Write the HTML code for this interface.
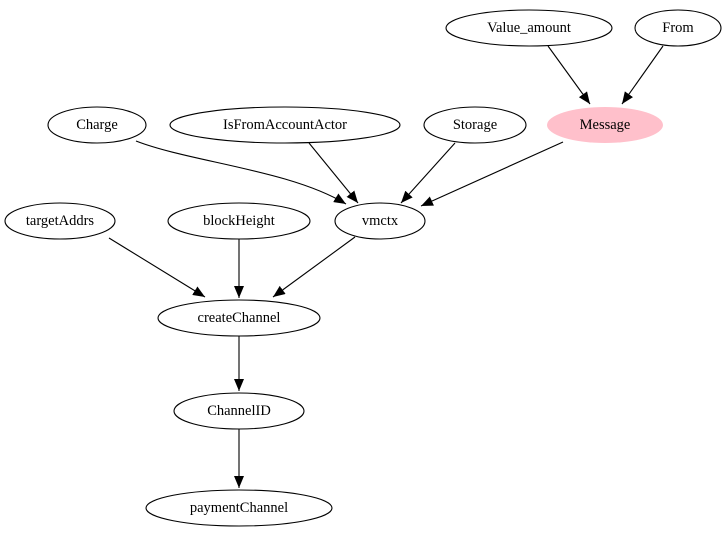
<!DOCTYPE html>
<html><head><meta charset="utf-8"><style>
html,body{margin:0;padding:0;background:#fff;width:726px;height:539px;overflow:hidden}
text{font-family:"Liberation Serif",serif;font-size:14.5px;text-anchor:middle;dominant-baseline:central;fill:#000}
</style></head><body>
<svg width="726" height="539" viewBox="0 0 726 539" xmlns="http://www.w3.org/2000/svg">
<defs><marker id="a" markerWidth="12" markerHeight="10" refX="12" refY="5" orient="auto" markerUnits="userSpaceOnUse"><path d="M0,0 L12,5 L0,10 z" fill="#000"/></marker></defs>
<g fill="none" stroke="#000" stroke-width="1.1">
<ellipse cx="529" cy="28" rx="83" ry="18"/>
<ellipse cx="678" cy="28" rx="43" ry="18"/>
<ellipse cx="605" cy="125" rx="58" ry="18" fill="#ffc0cb" stroke="none"/>
<ellipse cx="97" cy="125" rx="49" ry="18"/>
<ellipse cx="285" cy="125" rx="115" ry="18"/>
<ellipse cx="475" cy="125" rx="51" ry="18"/>
<ellipse cx="60" cy="221" rx="55" ry="18"/>
<ellipse cx="239" cy="221" rx="71" ry="18"/>
<ellipse cx="380" cy="221" rx="45" ry="18"/>
<ellipse cx="239" cy="318" rx="81" ry="18"/>
<ellipse cx="239" cy="411" rx="65" ry="18"/>
<ellipse cx="239" cy="508" rx="93" ry="18"/>
<g marker-end="url(#a)">
<path d="M548,46 L590,104"/>
<path d="M663,46 L622,104"/>
<path d="M136,141 C190,162 290,170 346,204"/>
<path d="M309,143 L358,203"/>
<path d="M455,143 L401,203"/>
<path d="M563,142 L421,206"/>
<path d="M109,238 L205,297"/>
<path d="M239,239 L239,298"/>
<path d="M355,237 L273,297"/>
<path d="M239,336 L239,391"/>
<path d="M239,429 L239,488"/>
</g></g>
<text x="529" y="28">Value_amount</text>
<text x="678" y="28">From</text>
<text x="605" y="125">Message</text>
<text x="97" y="125">Charge</text>
<text x="285" y="125">IsFromAccountActor</text>
<text x="475" y="125">Storage</text>
<text x="60" y="221">targetAddrs</text>
<text x="239" y="221">blockHeight</text>
<text x="380" y="221">vmctx</text>
<text x="239" y="318">createChannel</text>
<text x="239" y="411">ChannelID</text>
<text x="239" y="508">paymentChannel</text>
</svg>
</body></html>
